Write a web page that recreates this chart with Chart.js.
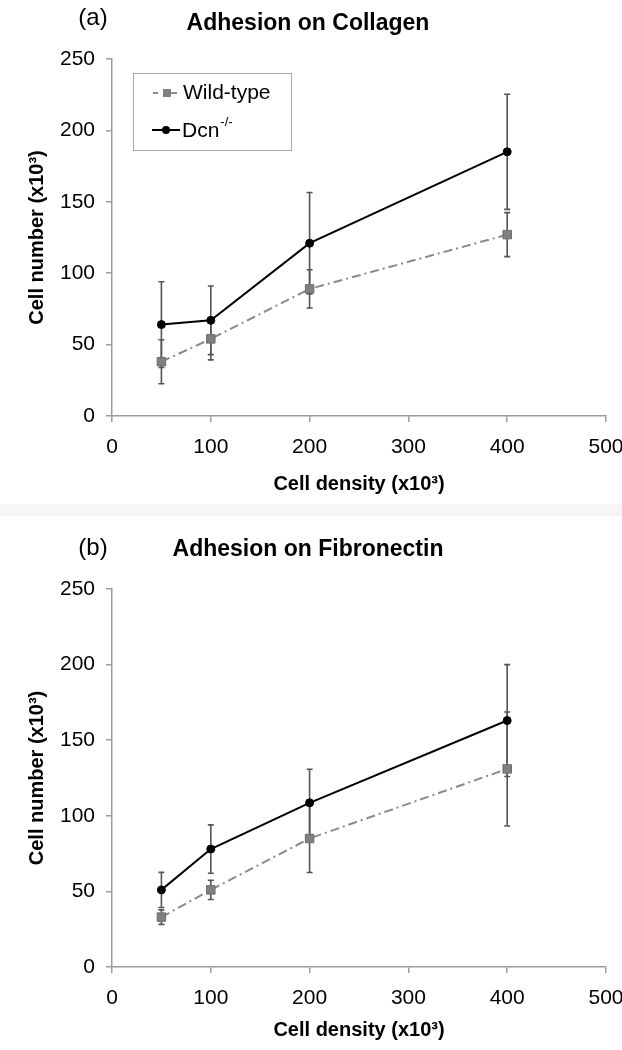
<!DOCTYPE html>
<html>
<head>
<meta charset="utf-8">
<script src="https://cdn.jsdelivr.net/npm/chart.js@4.4.0/dist/chart.umd.min.js"></script>
<style>
html, body { margin: 0; padding: 0; background: #fff; }
#wrap { position: relative; width: 622px; height: 1050px; overflow: hidden; }
#band { position: absolute; left: 0; top: 504px; width: 622px; height: 12px; background: #f6f6f6; }
canvas { position: absolute; left: 0; }
</style>
</head>
<body>
<div id="wrap">
  <div id="band"></div>
  <canvas id="c1" width="622" height="512" style="top:0"></canvas>
  <canvas id="c2" width="622" height="535" style="top:515px"></canvas>
</div>
<script>
// cell density (x10^3)
var density = [50, 100, 200, 400];
var xTicks = [0, 100, 200, 300, 400, 500];
var yTicks = [0, 50, 100, 150, 200, 250];

// (a) collagen
var colWild = [38, 54, 89, 127];
var colWildErr = [15.4, 14.7, 13.4, 15.4];
var colDcn = [64, 67, 121, 185];
var colDcnErr = [30, 24, 35.5, 40.3];

// (b) fibronectin
var fibWild = [33, 51, 85, 131];
var fibWildErr = [4.8, 6.4, 22.5, 37.7];
var fibDcn = [51, 78, 108.6, 163];
var fibDcnErr = [11.6, 16, 22.2, 37];

var FONT = "'Liberation Sans', Arial, sans-serif";
var AXIS = '#9c9c9c';

function pts(ys) {
  return density.map(function (d, i) { return {x: d, y: ys[i]}; });
}

var errorBars = {
  id: 'errorBars',
  beforeDatasetsDraw: function (chart) {
    var ctx = chart.ctx, ys = chart.scales.y;
    chart.data.datasets.forEach(function (ds, i) {
      var meta = chart.getDatasetMeta(i);
      ctx.save();
      ctx.strokeStyle = '#555';
      ctx.lineWidth = 1.6;
      meta.data.forEach(function (p, j) {
        var v = ds.data[j].y, e = ds.errors[j];
        var t = ys.getPixelForValue(v + e), b = ys.getPixelForValue(v - e);
        ctx.beginPath();
        ctx.moveTo(p.x, t); ctx.lineTo(p.x, b);
        ctx.moveTo(p.x - 3, t); ctx.lineTo(p.x + 3, t);
        ctx.moveTo(p.x - 3, b); ctx.lineTo(p.x + 3, b);
        ctx.stroke();
      });
      ctx.restore();
    });
  }
};

var headings = {
  id: 'headings',
  afterDraw: function (chart) {
    var o = chart.options.plugins.headings, ctx = chart.ctx;
    ctx.save();
    ctx.fillStyle = '#000';
    ctx.textBaseline = 'middle';
    ctx.textAlign = 'center';
    ctx.font = '24px ' + FONT;
    ctx.fillText(o.tag, o.tagX, o.tagY);
    ctx.font = 'bold 23px ' + FONT;
    ctx.fillText(o.text, 308, o.titleY);
    ctx.restore();
  }
};

// hand drawn legend, only on (a)
var boxLegend = {
  id: 'boxLegend',
  afterDraw: function (chart) {
    if (!chart.options.plugins.boxLegend.show) return;
    var ctx = chart.ctx;
    ctx.save();
    ctx.strokeStyle = '#a8a8a8';
    ctx.lineWidth = 1;
    ctx.strokeRect(133.5, 73.5, 158, 77);
    // wild-type sample
    ctx.strokeStyle = '#8a8a8a';
    ctx.lineWidth = 2;
    ctx.beginPath();
    ctx.moveTo(153, 93); ctx.lineTo(158, 93);
    ctx.moveTo(171, 93); ctx.lineTo(177, 93);
    ctx.stroke();
    ctx.fillStyle = '#808080';
    ctx.fillRect(163, 89, 8, 8);
    // dcn sample
    ctx.strokeStyle = '#000';
    ctx.beginPath();
    ctx.moveTo(152, 130); ctx.lineTo(180, 130);
    ctx.stroke();
    ctx.fillStyle = '#000';
    ctx.beginPath();
    ctx.arc(166, 130, 4, 0, Math.PI * 2);
    ctx.fill();
    // labels
    ctx.textBaseline = 'middle';
    ctx.textAlign = 'left';
    ctx.font = '21px ' + FONT;
    ctx.fillText('Wild-type', 183, 93);
    ctx.fillText('Dcn', 182, 131);
    var w = ctx.measureText('Dcn').width;
    ctx.font = '13px ' + FONT;
    ctx.fillText('-/-', 182 + w + 1, 122);
    ctx.restore();
  }
};

function makeChart(id, g) {
  return new Chart(document.getElementById(id), {
    type: 'line',
    data: {
      datasets: [{
        label: 'Wild-type',
        data: pts(g.wild),
        errors: g.wildErr,
        borderColor: '#8a8a8a',
        borderWidth: 2,
        borderDash: [9, 4, 2, 4],
        pointStyle: 'rect',
        pointRadius: 6,
        backgroundColor: '#808080',
        pointBorderColor: '#6c6c6c',
        pointBorderWidth: 1,
        order: 1
      }, {
        label: 'Dcn-/-',
        data: pts(g.dcn),
        errors: g.dcnErr,
        borderColor: '#000',
        borderWidth: 2,
        pointStyle: 'circle',
        pointRadius: 4,
        backgroundColor: '#000',
        pointBorderColor: '#000',
        pointBorderWidth: 1,
        order: 0
      }]
    },
    options: {
      responsive: false,
      animation: false,
      layout: {padding: {top: g.top, left: 0, right: 16, bottom: 0}},
      plugins: {
        legend: {display: false},
        tooltip: {enabled: false},
        headings: {tag: g.tag, tagX: 93, tagY: g.tagY, text: g.title, titleY: g.titleY},
        boxLegend: {show: g.legend}
      },
      scales: {
        x: {
          type: 'linear', min: 0, max: 500,
          afterBuildTicks: function (s) { s.ticks = xTicks.map(function (v) { return {value: v}; }); },
          ticks: {color: '#000', font: {family: FONT, size: 21}, padding: 13, maxRotation: 0},
          grid: {drawOnChartArea: false, tickLength: 6, color: AXIS, lineWidth: 1.5},
          border: {color: AXIS, width: 1.5},
          title: {display: true, text: 'Cell density (x10³)', color: '#000',
            font: {family: FONT, size: 20, weight: 'bold'}, padding: {top: 0, bottom: g.xtPad}},
          afterFit: function (s) { s.height = g.xh; s.paddingRight = 0; s.paddingLeft = 0; }
        },
        y: {
          type: 'linear', min: 0, max: 250,
          afterBuildTicks: function (s) { s.ticks = yTicks.map(function (v) { return {value: v}; }); },
          ticks: {color: '#000', font: {family: FONT, size: 21}, padding: 11},
          grid: {drawOnChartArea: false, tickLength: 6, color: AXIS, lineWidth: 1.5},
          border: {color: AXIS, width: 1.5},
          title: {display: true, text: 'Cell number (x10³)', color: '#000',
            font: {family: FONT, size: 20, weight: 'bold'}, padding: {top: 25, bottom: 0}},
          afterFit: function (s) { s.width = 112; }
        }
      }
    },
    plugins: [errorBars, headings, boxLegend]
  });
}

makeChart('c1', {
  wild: colWild, wildErr: colWildErr, dcn: colDcn, dcnErr: colDcnErr,
  top: 59, xh: 96, xtPad: 16, legend: true,
  tag: '(a)', tagY: 18, title: 'Adhesion on Collagen', titleY: 24
});
makeChart('c2', {
  wild: fibWild, wildErr: fibWildErr, dcn: fibDcn, dcnErr: fibDcnErr,
  top: 74, xh: 83, xtPad: 8, legend: false,
  tag: '(b)', tagY: 33, title: 'Adhesion on Fibronectin', titleY: 35
});
</script>
</body>
</html>
